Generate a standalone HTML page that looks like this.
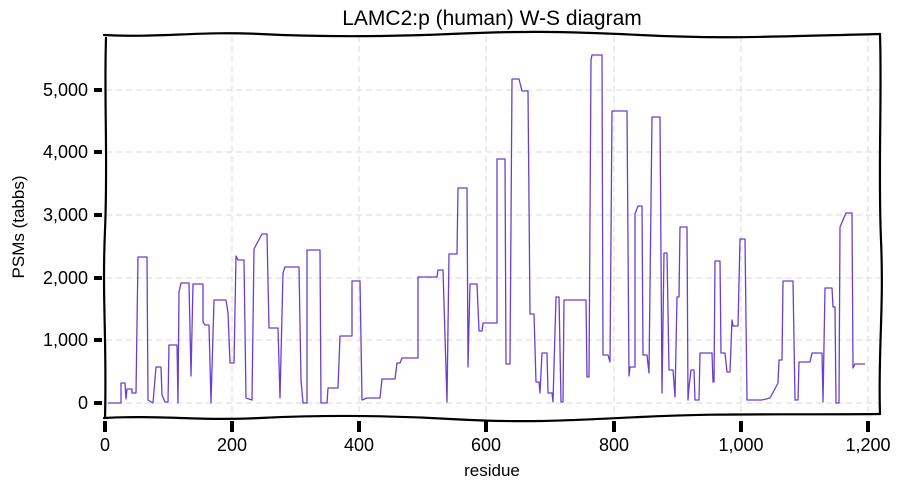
<!DOCTYPE html>
<html><head><meta charset="utf-8"><style>
html,body{margin:0;padding:0;background:#fff;}
svg{display:block;font-family:"Liberation Sans",sans-serif;}
</style></head><body>
<svg width="904" height="492" viewBox="0 0 904 492">
<g stroke="#e0e0e0" stroke-width="1.2" stroke-dasharray="6,4" fill="none">
<line x1="106" y1="403" x2="880" y2="403"/>
<line x1="106" y1="340" x2="880" y2="340"/>
<line x1="106" y1="278" x2="880" y2="278"/>
<line x1="106" y1="215" x2="880" y2="215"/>
<line x1="106" y1="152" x2="880" y2="152"/>
<line x1="106" y1="90" x2="880" y2="90"/>
<line x1="232" y1="36" x2="232" y2="418"/>
<line x1="359" y1="36" x2="359" y2="418"/>
<line x1="486" y1="36" x2="486" y2="418"/>
<line x1="614" y1="36" x2="614" y2="418"/>
<line x1="741" y1="36" x2="741" y2="418"/>
<line x1="868" y1="36" x2="868" y2="418"/>
</g>
<polyline fill="none" stroke="#6a3fd0" stroke-width="1.3" stroke-linejoin="round" points="
108,403 121,403 121,383 125,383 126,399 127,389 132,389 132,393 136,393
138,257 147,257 148,400 153,403 156,367 161,367 162,395 165,402 168,402
169,345 177,345 178,403 179,292 181,283 189,283 191,376 193,284 203,284 203,322 205,325 209,325 211,403
214,300 226,300 228,313 230,363 234,363 236,256 238,260 244,260 246,398 252,400 254,249 262,234 267,234
269,328 278,328 280,398 283,273 285,267 299,267 301,380 303,403 307,403 307,250 320,250 321,403 327,403
328,388 338,388 340,336 352,336 352,281 360,281 362,400 367,398 380,398 382,379 395,379 397,363 400,363
402,358 418,358 418,277 437,277 438,270 443,270 447,402 449,254 457,254 458,188 467,188 468,367 470,284 477,284
479,331 482,331 483,323 497,323 497,159 505,159 506,364 510,364 512,79 519,79 522,91 528,91 530,314 534,314
536,382 539,382 540,393 542,353 547,353 548,393 552,393 553,402 556,297 559,297 561,402 563,402
564,300 586,300 587,377 589,377 591,60 592,55 602,55 603,355 608,355 610,362 612,111 627,111 629,376 630,367 635,367
635,214 638,206 642,206 643,355 647,355 649,373 652,117 660,117 662,393 664,253 667,253 669,370 673,370 675,397
677,297 679,297 680,227 687,227 688,400 689,387 691,370 694,370 695,400 699,400 700,353 712,353 713,382 714,382
715,261 720,261 721,353 725,353 727,372 730,372 732,320 733,326 738,326 740,239 745,239 747,400 762,400 770,398
778,383 779,360 782,360 783,281 793,281 795,400 798,400 799,362 810,362 812,353 822,353 823,402 825,288 832,288
833,307 835,307 836,403 839,403 840,227 846,213 852,213 853,368 855,364 865,364"/>
<g stroke="#000" stroke-width="2.2" fill="none" stroke-linecap="round">
<path d="M104,35 C160,38 200,31 260,34 S380,37 450,34 S560,31 640,35 S760,37 880,34"/>
<path d="M106,38 C104,100 108,160 105,230 S107,340 105,418"/>
<path d="M880,34 C882,100 878,170 881,240 S878,350 880,414"/>
<path d="M104,418 C160,415 200,421 260,418 S380,415 450,419 S560,421 640,417 S760,415 880,414"/>
</g>
<g stroke="#000" stroke-width="4">
<line x1="94" y1="403" x2="102" y2="403"/>
<line x1="94" y1="340" x2="102" y2="340"/>
<line x1="94" y1="278" x2="102" y2="278"/>
<line x1="94" y1="215" x2="102" y2="215"/>
<line x1="94" y1="152" x2="102" y2="152"/>
<line x1="94" y1="90" x2="102" y2="90"/>
<line x1="105" y1="421" x2="105" y2="432"/>
<line x1="232" y1="421" x2="232" y2="432"/>
<line x1="359" y1="421" x2="359" y2="432"/>
<line x1="486" y1="421" x2="486" y2="432"/>
<line x1="614" y1="421" x2="614" y2="432"/>
<line x1="741" y1="421" x2="741" y2="432"/>
<line x1="868" y1="421" x2="868" y2="432"/>
</g>
<g font-size="18" fill="#000" text-anchor="end">
<text x="88" y="409">0</text>
<text x="88" y="346">1,000</text>
<text x="88" y="284">2,000</text>
<text x="88" y="221">3,000</text>
<text x="88" y="158">4,000</text>
<text x="88" y="96">5,000</text>
</g>
<g font-size="18" fill="#000" text-anchor="middle">
<text x="105" y="451">0</text>
<text x="232" y="451">200</text>
<text x="359" y="451">400</text>
<text x="486" y="451">600</text>
<text x="614" y="451">800</text>
<text x="741" y="451">1,000</text>
<text x="868" y="451">1,200</text>
<text x="492" y="476" font-size="17">residue</text>
<text x="492" y="25" font-size="21">LAMC2:p (human) W-S diagram</text>
</g>
<text transform="translate(24,227) rotate(-90)" font-size="17" text-anchor="middle">PSMs (tabbs)</text>
</svg>
</body></html>
